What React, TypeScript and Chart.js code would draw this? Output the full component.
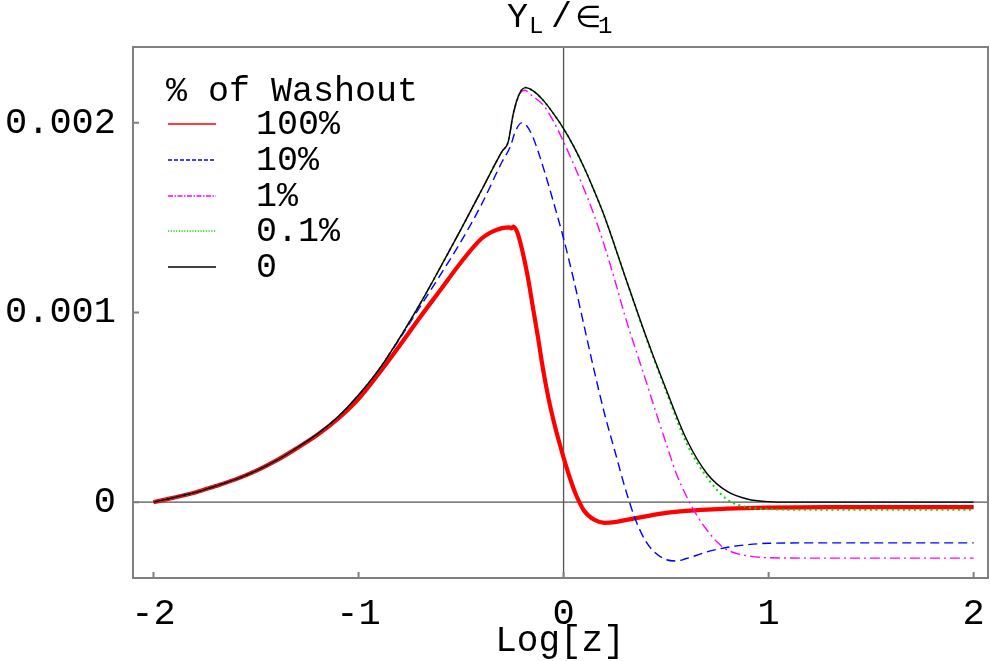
import React, { useEffect, useRef } from 'react';
import { Chart, registerables } from 'chart.js';

Chart.register(...registerables);

// ---------- data (y values in units of 1e-3) ----------
const seriesNames = ['100%', '10%', '1%', '0.1%', '0'];
const legendTitle = '% of Washout';
const xTicks = [-2, -1, 0, 1, 2];
const yTicks = [0, 0.001, 0.002];
const xLabel = 'Log[z]';

const redX = [-2, -1.8, -1.7, -1.6, -1.5, -1.4, -1.3, -1.2, -1.1, -1.0, -0.9, -0.8, -0.7, -0.6, -0.5, -0.4, -0.35, -0.3, -0.265, -0.255, -0.245, -0.225, -0.2, -0.175, -0.15, -0.125, -0.1, -0.075, -0.05, -0.025, 0, 0.03, 0.06, 0.1, 0.15, 0.2, 0.25, 0.3, 0.4, 0.5, 0.6, 0.7, 0.8, 1.0, 1.3, 2.0];
const redY = [0, 0.05, 0.084, 0.12, 0.165, 0.22, 0.285, 0.355, 0.44, 0.545, 0.68, 0.825, 0.975, 1.12, 1.265, 1.39, 1.425, 1.445, 1.449, 1.443, 1.453, 1.42, 1.32, 1.19, 1.03, 0.87, 0.70, 0.555, 0.435, 0.33, 0.235, 0.13, 0.04, -0.045, -0.093, -0.109, -0.105, -0.095, -0.075, -0.057, -0.046, -0.039, -0.034, -0.029, -0.026, -0.026];

const blueX = [-2, -1.8, -1.7, -1.6, -1.5, -1.4, -1.3, -1.2, -1.1, -1.0, -0.9, -0.8, -0.7, -0.6, -0.5, -0.4, -0.3, -0.26, -0.235, -0.205, -0.18, -0.15, -0.1, -0.05, 0, 0.05, 0.1, 0.15, 0.2, 0.25, 0.3, 0.35, 0.4, 0.45, 0.5, 0.55, 0.6, 0.65, 0.7, 0.8, 0.9, 1.0, 1.2, 2.0];
const blueY = [0, 0.05, 0.084, 0.12, 0.165, 0.22, 0.287, 0.36, 0.45, 0.565, 0.70, 0.86, 1.03, 1.2, 1.375, 1.57, 1.795, 1.874, 1.955, 2.0, 1.985, 1.926, 1.768, 1.585, 1.39, 1.17, 0.93, 0.69, 0.465, 0.27, 0.075, -0.09, -0.205, -0.27, -0.303, -0.31, -0.297, -0.28, -0.262, -0.238, -0.224, -0.217, -0.215, -0.215];

const magentaX = [-2, -1.8, -1.7, -1.6, -1.5, -1.4, -1.3, -1.2, -1.1, -1.0, -0.9, -0.8, -0.7, -0.6, -0.5, -0.4, -0.3, -0.27, -0.245, -0.215, -0.19, -0.15, -0.1, -0.05, 0, 0.05, 0.1, 0.15, 0.2, 0.25, 0.3, 0.35, 0.4, 0.45, 0.5, 0.55, 0.6, 0.65, 0.7, 0.75, 0.8, 0.9, 1.0, 1.2, 2.0];
const magentaY = [0, 0.05, 0.084, 0.12, 0.165, 0.22, 0.287, 0.36, 0.45, 0.565, 0.70, 0.865, 1.045, 1.24, 1.44, 1.645, 1.85, 1.90, 2.045, 2.15, 2.172, 2.14, 2.095, 2.01, 1.9, 1.78, 1.65, 1.51, 1.35, 1.17, 0.98, 0.81, 0.645, 0.475, 0.31, 0.15, 0.03, -0.07, -0.148, -0.212, -0.253, -0.283, -0.293, -0.295, -0.295];

const greenX = [-2, -1.8, -1.7, -1.6, -1.5, -1.4, -1.3, -1.2, -1.1, -1.0, -0.9, -0.8, -0.7, -0.6, -0.5, -0.4, -0.3, -0.27, -0.245, -0.215, -0.185, -0.15, -0.1, -0.05, 0, 0.05, 0.1, 0.15, 0.2, 0.3, 0.4, 0.5, 0.6, 0.7, 0.8, 0.9, 1.0, 1.2, 2.0];
const greenY = [0, 0.05, 0.084, 0.12, 0.165, 0.22, 0.287, 0.36, 0.45, 0.565, 0.70, 0.865, 1.045, 1.24, 1.44, 1.645, 1.85, 1.90, 2.05, 2.155, 2.186, 2.17, 2.12, 2.05, 1.97, 1.875, 1.765, 1.64, 1.505, 1.19, 0.875, 0.585, 0.31, 0.13, 0.012, -0.027, -0.037, -0.04, -0.04];

const blackX = [-2, -1.8, -1.7, -1.6, -1.5, -1.4, -1.3, -1.2, -1.1, -1.0, -0.9, -0.8, -0.7, -0.6, -0.5, -0.4, -0.3, -0.27, -0.245, -0.215, -0.185, -0.15, -0.1, -0.05, 0, 0.05, 0.1, 0.15, 0.2, 0.3, 0.4, 0.5, 0.6, 0.7, 0.8, 0.9, 1.0, 1.1, 1.5, 2.0];
const blackY = [0, 0.05, 0.084, 0.12, 0.165, 0.22, 0.287, 0.36, 0.45, 0.565, 0.70, 0.865, 1.045, 1.24, 1.44, 1.645, 1.85, 1.90, 2.05, 2.155, 2.186, 2.17, 2.12, 2.05, 1.97, 1.875, 1.765, 1.64, 1.505, 1.19, 0.88, 0.595, 0.33, 0.15, 0.055, 0.015, 0.003, 0, 0, 0];

const FONT = '"Liberation Mono", "DejaVu Sans Mono", monospace';

const toPoints = (xs: number[], ys: number[]) => xs.map((x, i) => ({ x, y: ys[i] * 1e-3 }));

const styles = [
  { color: '#ff0000', width: 4.2, dash: [] as number[], legendDash: [] as number[] },
  { color: '#0000ff', width: 1.4, dash: [9, 5], legendDash: [4, 2] },
  { color: '#ff00ff', width: 1.4, dash: [10, 4, 2, 4], legendDash: [5, 1.5, 1.5, 1.5] },
  { color: '#00dd00', width: 2, dash: [2, 3.5], legendDash: [1.2, 1.5] },
  { color: '#000000', width: 1.4, dash: [] as number[], legendDash: [] as number[] },
];

const decorPlugin = {
  id: 'decor',
  beforeDatasetsDraw(chart: any) {
    const ctx = chart.ctx;
    const { left, right, top, bottom } = chart.chartArea;
    const xs = chart.scales.x;
    const ys = chart.scales.y;
    ctx.save();
    ctx.strokeStyle = '#555555';
    ctx.lineWidth = 1.3;
    const y0 = ys.getPixelForValue(0);
    const x0 = xs.getPixelForValue(0);
    ctx.beginPath();
    ctx.moveTo(left, y0);
    ctx.lineTo(right, y0);
    ctx.moveTo(x0, top);
    ctx.lineTo(x0, bottom);
    ctx.stroke();
    ctx.restore();
  },
  afterDraw(chart: any) {
    const ctx = chart.ctx;
    const { left, right, top, bottom } = chart.chartArea;
    const xs = chart.scales.x;
    const ys = chart.scales.y;
    ctx.save();
    // frame
    ctx.strokeStyle = '#808080';
    ctx.lineWidth = 2;
    ctx.strokeRect(left, top, right - left, bottom - top);
    // inward ticks
    ctx.beginPath();
    xTicks.forEach((v) => {
      const px = xs.getPixelForValue(v);
      ctx.moveTo(px, bottom);
      ctx.lineTo(px, bottom - 6);
    });
    yTicks.forEach((v) => {
      const py = ys.getPixelForValue(v);
      ctx.moveTo(left, py);
      ctx.lineTo(left + 6, py);
    });
    ctx.stroke();

    // legend
    ctx.fillStyle = '#000';
    ctx.textBaseline = 'alphabetic';
    ctx.textAlign = 'left';
    ctx.font = `35px ${FONT}`;
    ctx.fillText(legendTitle, 166, 101);
    const rowY = [124, 160, 196, 231, 267];
    seriesNames.forEach((name, i) => {
      const st = styles[i];
      ctx.save();
      ctx.strokeStyle = st.color;
      ctx.lineWidth = 1.4;
      ctx.setLineDash(st.legendDash);
      ctx.beginPath();
      ctx.moveTo(168, rowY[i]);
      ctx.lineTo(216, rowY[i]);
      ctx.stroke();
      ctx.restore();
      ctx.fillText(name, 256, rowY[i] + 10);
    });

    // y label (top)
    ctx.font = `35px ${FONT}`;
    ctx.fillText('Y', 507, 27);
    ctx.font = `24px ${FONT}`;
    ctx.fillText('L', 529, 33);
    ctx.font = `35px ${FONT}`;
    ctx.fillText('/', 551, 27);
    ctx.font = `30px "DejaVu Sans", sans-serif`;
    ctx.fillText('\u2208', 575, 27);
    ctx.font = `24px ${FONT}`;
    ctx.fillText('1', 598, 33);

    // x label
    ctx.font = `36px ${FONT}`;
    ctx.textAlign = 'center';
    ctx.fillText(xLabel, 560, 651);
    ctx.restore();
  },
};

export default function App() {
  const canvasRef = useRef<HTMLCanvasElement | null>(null);

  useEffect(() => {
    document.body.style.margin = '0';
    const canvas = canvasRef.current;
    if (!canvas) return;
    const seriesData = [
      toPoints(redX, redY),
      toPoints(blueX, blueY),
      toPoints(magentaX, magentaY),
      toPoints(greenX, greenY),
      toPoints(blackX, blackY),
    ];
    const chart = new Chart(canvas, {
      type: 'scatter',
      data: {
        datasets: seriesData.map((d, i) => ({
          label: seriesNames[i],
          data: d,
          showLine: true,
          borderColor: styles[i].color,
          backgroundColor: styles[i].color,
          borderWidth: styles[i].width,
          borderDash: styles[i].dash,
          pointRadius: 0,
          pointHoverRadius: 0,
          cubicInterpolationMode: 'monotone',
          tension: 0.4,
          order: 4 - i,
          clip: false,
        })),
      },
      options: {
        responsive: false,
        animation: false,
        events: [],
        layout: { padding: { left: 0, top: 47, right: 2, bottom: 0 } },
        plugins: {
          legend: { display: false },
          tooltip: { enabled: false },
          title: { display: false },
        },
        scales: {
          x: {
            type: 'linear',
            min: -2.1,
            max: 2.07,
            grid: { display: false },
            border: { display: false },
            afterFit: (scale: any) => {
              scale.height = 83;
              scale.paddingLeft = 0;
              scale.paddingRight = 0;
            },
            afterBuildTicks: (scale: any) => {
              scale.ticks = xTicks.map((v) => ({ value: v }));
            },
            ticks: {
              color: '#000',
              font: { family: FONT, size: 37 },
              padding: 6,
              autoSkip: false,
              maxRotation: 0,
              callback: (v: any) => String(v),
            },
          },
          y: {
            type: 'linear',
            min: -0.0004,
            max: 0.0024,
            grid: { display: false },
            border: { display: false },
            afterFit: (scale: any) => {
              scale.width = 133;
              scale.paddingTop = 0;
              scale.paddingBottom = 0;
            },
            afterBuildTicks: (scale: any) => {
              scale.ticks = yTicks.map((v) => ({ value: v }));
            },
            ticks: {
              color: '#000',
              font: { family: FONT, size: 37 },
              padding: 9,
              callback: (v: any) => (v === 0 ? '0' : Number(v).toFixed(3)),
            },
          },
        },
      },
      plugins: [decorPlugin],
    } as any);
    return () => chart.destroy();
  }, []);

  return (
    <div style={{ width: 990, height: 661 }}>
      <canvas ref={canvasRef} width={990} height={661} style={{ display: 'block' }} />
    </div>
  );
}
